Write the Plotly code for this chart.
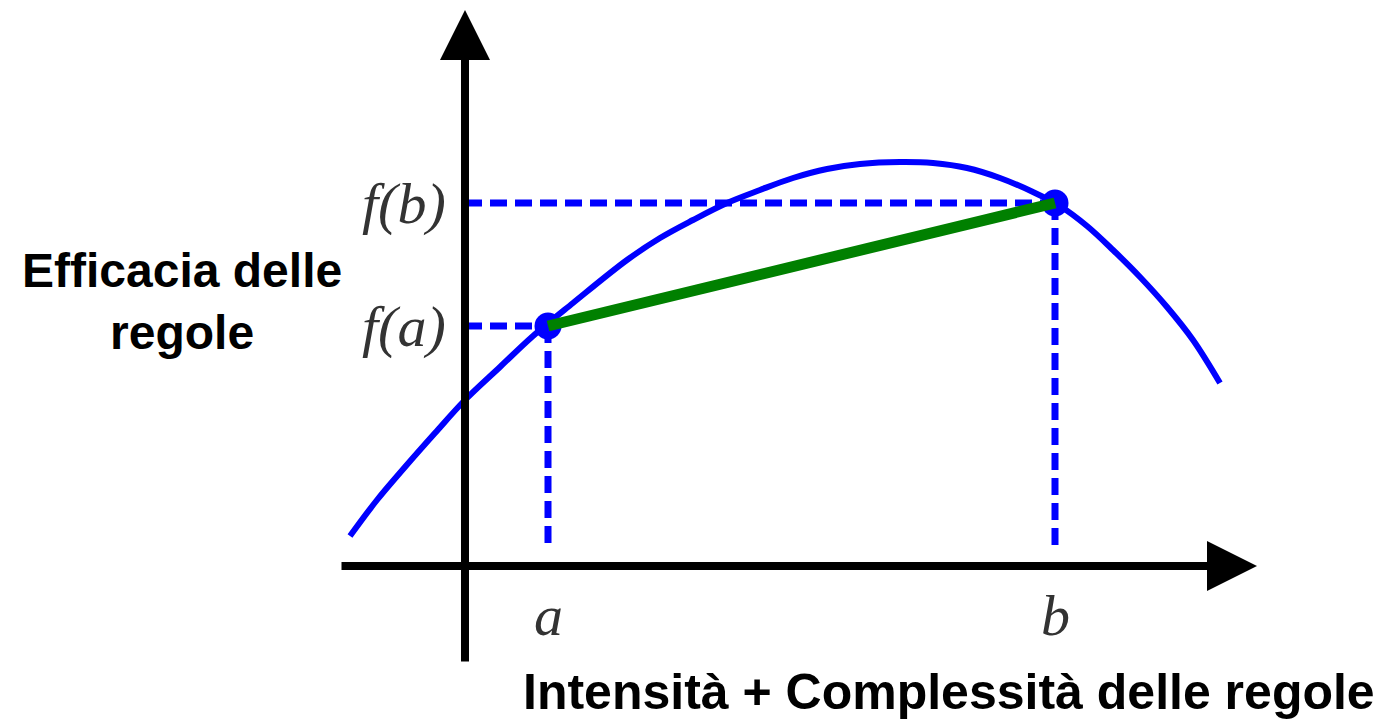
import plotly.graph_objects as go

# curve (x, y in chart units, origin at the axes crossing)
curve_x = [-1.15, -0.88, -0.60, -0.30, 0.00, 0.35, 0.68, 1.08, 1.62, 1.95, 2.28, 2.62,
           2.95, 3.28, 3.62, 3.95, 4.35, 4.68, 5.02, 5.35, 5.68, 5.95, 6.22, 6.48,
           6.75, 7.02, 7.28, 7.55]
curve_y = [0.30, 0.66, 0.99, 1.33, 1.66, 1.99, 2.30, 2.63, 3.06, 3.28, 3.46, 3.63,
           3.76, 3.88, 3.97, 4.02, 4.04, 4.03, 3.98, 3.88, 3.74, 3.60, 3.40, 3.16,
           2.89, 2.59, 2.26, 1.83]

# the two marked points a and b
point_x = [0.83, 5.90]
point_y = [2.40, 3.63]
x_labels = ["a", "b"]
y_labels = ["f(a)", "f(b)"]

# axes extent
x_axis = [-1.25, 7.92]
y_axis = [-0.97, 5.56]
dash_bottom = 0.21

y_title = "Efficacia delle<br>regole"
x_title = "Intensità + Complessità delle regole"

blue = "#0000ff"
green = "#008000"
dash = "17px,8px"

fig = go.Figure()

# dashed guides
for px, py in zip(point_x, point_y):
    fig.add_trace(go.Scatter(x=[0, px], y=[py, py], mode="lines",
                             line=dict(color=blue, width=7, dash=dash), hoverinfo="skip"))
    fig.add_trace(go.Scatter(x=[px, px], y=[py, dash_bottom], mode="lines",
                             line=dict(color=blue, width=7, dash=dash), hoverinfo="skip"))

# the curve
fig.add_trace(go.Scatter(x=curve_x, y=curve_y, mode="lines",
                         line=dict(color=blue, width=6, shape="spline", smoothing=1)))

# points
fig.add_trace(go.Scatter(x=point_x, y=point_y, mode="markers",
                         marker=dict(color=blue, size=27)))

# secant
fig.add_trace(go.Scatter(x=point_x, y=point_y, mode="lines",
                         line=dict(color=green, width=11)))

# axes with arrowheads
fig.add_annotation(x=x_axis[1], y=0, ax=x_axis[0], ay=0, xref="x", yref="y",
                   axref="x", ayref="y", text="", showarrow=True, arrowhead=2,
                   arrowsize=1.25, arrowwidth=8, arrowcolor="black")
fig.add_annotation(x=0, y=y_axis[1], ax=0, ay=y_axis[0], xref="x", yref="y",
                   axref="x", ayref="y", text="", showarrow=True, arrowhead=2,
                   arrowsize=1.25, arrowwidth=8, arrowcolor="black")

label_font = dict(family="Liberation Serif", size=58, color="#333333")
for px, py, xl, yl in zip(point_x, point_y, x_labels, y_labels):
    fig.add_annotation(x=px, y=-0.49, text="<i>%s</i>" % xl, showarrow=False,
                       xanchor="center", yanchor="middle", font=label_font)
    fig.add_annotation(x=-0.17, y=py, text="<i>%s</i>" % yl, showarrow=False,
                       xanchor="right", yanchor="middle", font=label_font)

fig.add_annotation(x=0.131, y=0.582, xref="paper", yref="paper", text="<b>%s</b>" % y_title,
                   showarrow=False, xanchor="center", yanchor="middle", align="center",
                   font=dict(family="Liberation Sans", size=48, color="black"))
fig.add_annotation(x=0.682, y=0.042, xref="paper", yref="paper", text="<b>%s</b>" % x_title,
                   showarrow=False, xanchor="center", yanchor="middle",
                   font=dict(family="Liberation Sans", size=50, color="black"))

fig.update_layout(
    width=1391, height=722,
    margin=dict(l=0, r=0, t=0, b=0),
    plot_bgcolor="white", paper_bgcolor="white",
    showlegend=False,
    xaxis=dict(range=[-4.65, 9.26], visible=False, fixedrange=True),
    yaxis=dict(range=[-1.56, 5.66], visible=False, fixedrange=True),
)

# drop the default page margin so the figure sits at the window's corner
fig.write_html("out.html", config={"displayModeBar": False},
               post_script="document.body.style.margin='0px';")
